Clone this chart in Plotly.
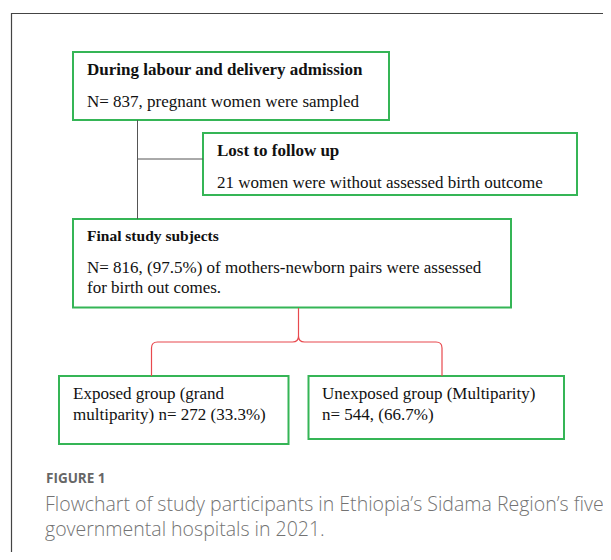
import plotly.graph_objects as go

# ---- content (data) ----
box_titles = ["During labour and delivery admission", "Lost to follow up", "Final study subjects"]
box_lines = [
    ["N= 837, pregnant women were sampled"],
    ["21 women were without assessed birth outcome"],
    ["N= 816, (97.5%) of mothers-newborn pairs were assessed", "for birth out comes."],
]
group_lines = [
    ["Exposed group (grand", "multiparity) n= 272 (33.3%)"],
    ["Unexposed group (Multiparity)", "n= 544, (66.7%)"],
]
caption_label = "FIGURE 1"
caption_lines = ["Flowchart of study participants in Ethiopia\u2019s Sidama Region\u2019s five",
                 "governmental hospitals in 2021."]

# ---- layout geometry ----
W, H = 611, 560
OFF = 8  # default page body margin
GREEN = "#35b556"
RED = "#e8494e"
GREY = "#555555"
SERIF = "Liberation Serif, Times New Roman, serif"

boxes = [(73, 52, 389, 120), (203, 133, 577, 195), (73, 219, 511, 307.5)]
group_boxes = [(59, 376, 288.5, 444), (308.5, 376, 564, 439)]
title_pos = [(85, 69, 17), (215, 150, 17), (85, 235, 15.5)]

shapes = []
annotations = []

# outer frame
shapes.append(dict(type="path", path=f"M 11.5 {H} L 11.5 13.5 L {W} 13.5",
                   line=dict(color="#444444", width=1.2)))

for (x0, y0, x1, y1) in boxes + group_boxes:
    shapes.append(dict(type="rect", x0=x0, y0=y0, x1=x1, y1=y1,
                       line=dict(color=GREEN, width=2), fillcolor="rgba(0,0,0,0)"))

# grey connectors
shapes.append(dict(type="line", x0=137.5, y0=120, x1=137.5, y1=219, line=dict(color=GREY, width=1)))
shapes.append(dict(type="line", x0=137.5, y0=159, x1=203, y1=159, line=dict(color=GREY, width=1)))

# red brace
cx, hy, lx, rx, r = 298.5, 342, 151.5, 442, 6
shapes.append(dict(type="path",
                   path=(f"M {lx} 376 L {lx} {hy+r} Q {lx} {hy} {lx+r} {hy} L {cx-r} {hy} "
                         f"Q {cx} {hy} {cx} {hy-r} L {cx} 308 "
                         f"M {cx} {hy-r} Q {cx} {hy} {cx+r} {hy} L {rx-r} {hy} "
                         f"Q {rx} {hy} {rx} {hy+r} L {rx} 376"),
                   line=dict(color=RED, width=1.2)))

def txt(x, y, s, size=17, bold=False, color="#111111", family=SERIF, weight=None):
    font = dict(family=family, size=size, color=color)
    if weight is not None:
        font["weight"] = weight
    annotations.append(dict(x=x, y=y, xref="x", yref="y", text=f"<b>{s}</b>" if bold else s,
                            showarrow=False, xanchor="left", yanchor="middle", align="left",
                            font=font))

for i, t in enumerate(box_titles):
    x, y, s = title_pos[i]
    txt(x, y, t, size=s, bold=True)

txt(85, 101, box_lines[0][0])
txt(215, 182, box_lines[1][0])
txt(85, 267, box_lines[2][0])
txt(85, 287, box_lines[2][1])

txt(71, 393, group_lines[0][0])
txt(71, 414, group_lines[0][1])
txt(319.5, 393, group_lines[1][0])
txt(319.5, 414, group_lines[1][1])

CAP = "Open Sans, Lato, sans-serif"
txt(44, 478, caption_label, size=13.5, bold=True, color="#666666", family=CAP)
txt(43, 516, "<br>".join(caption_lines), size=19.5, color="#737373", family=CAP, weight=300)

fig = go.Figure()
fig.update_layout(
    width=W - OFF, height=H - 2 * OFF,
    margin=dict(l=0, r=0, t=0, b=0),
    paper_bgcolor="white", plot_bgcolor="white",
    xaxis=dict(range=[OFF, W], visible=False, fixedrange=True),
    yaxis=dict(range=[H - OFF, OFF], visible=False, fixedrange=True),
    shapes=shapes, annotations=annotations, showlegend=False,
)
fig.write_html("out.html")
